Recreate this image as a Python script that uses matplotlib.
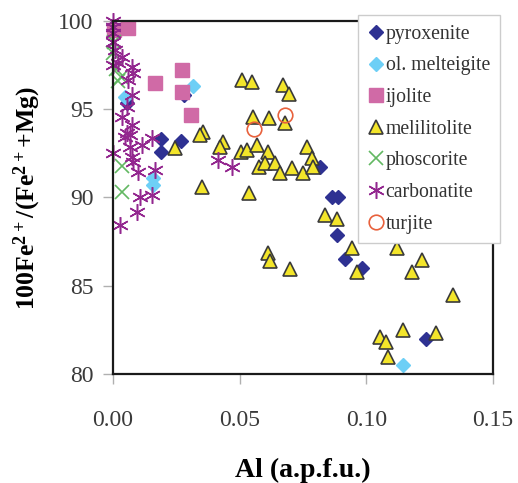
import matplotlib
matplotlib.use("Agg")
import matplotlib.pyplot as plt

# ---------------- data ----------------
pyrox_x = [0.028, 0.0055, 0.019, 0.019, 0.027, 0.0817, 0.0865, 0.0888, 0.0884, 0.0916, 0.0983, 0.1236]
pyrox_y = [95.8, 95.35, 93.3, 92.6, 93.2, 91.7, 90.0, 90.0, 87.9, 86.5, 86.0, 82.0]

melt_x = [0.0047, 0.0316, 0.0158, 0.0158, 0.1145]
melt_y = [95.7, 96.3, 91.1, 90.7, 80.5]

ijol_x = [0.0005, 0.0059, 0.0166, 0.0272, 0.0272, 0.0308]
ijol_y = [99.5, 99.6, 96.5, 97.2, 96.0, 94.7]

meli_x = [0.0509, 0.0549, 0.0671, 0.0695, 0.0553, 0.0616, 0.0679, 0.0355, 0.0343,
          0.0434, 0.0422, 0.0245, 0.0505, 0.0529, 0.0569, 0.0612, 0.0576, 0.0600,
          0.0640, 0.0659, 0.0707, 0.0750, 0.0766, 0.0786, 0.0790, 0.0351, 0.0537,
          0.0612, 0.0620, 0.0699, 0.0837, 0.0884, 0.0944, 0.1121, 0.1220, 0.1180,
          0.0963, 0.1342, 0.1054, 0.1078, 0.1145, 0.1275, 0.1086]
meli_y = [96.66, 96.54, 96.37, 95.86, 94.56, 94.50, 94.22, 93.71, 93.54,
          93.14, 92.86, 92.80, 92.58, 92.69, 92.97, 92.58, 91.73, 91.95,
          91.95, 91.39, 91.67, 91.39, 92.86, 92.24, 91.73, 90.60, 90.25,
          86.86, 86.40, 85.95, 89.01, 88.78, 87.14, 87.14, 86.46, 85.78,
          85.78, 84.48, 82.10, 81.81, 82.49, 82.32, 80.96]

phos_x = [0.0005, 0.0, 0.001, 0.003, 0.002, 0.0035, 0.0036]
phos_y = [98.8, 98.2, 97.3, 96.8, 96.6, 91.8, 90.3]

carb_x = [0.0, 0.0, 0.0, 0.0, 0.0008, 0.0036, 0.002, 0.0075, 0.0079, 0.0, 0.0059,
          0.0075, 0.0055, 0.0036, 0.0075, 0.0055, 0.0, 0.0067, 0.0067, 0.0075,
          0.0079, 0.0114, 0.0154, 0.0099, 0.0166, 0.0107, 0.0154, 0.0095, 0.0028,
          0.0415, 0.0470, 0.0047]
carb_y = [100.0, 99.66, 99.32, 98.81, 98.36, 97.96, 97.62, 97.39, 97.05, 97.5, 96.66,
          95.81, 95.13, 94.56, 94.10, 93.65, 92.52, 93.54, 92.86, 92.29,
          92.01, 92.97, 93.37, 91.44, 91.56, 90.03, 90.14, 89.18, 88.44,
          92.12, 91.73, 93.43]

turj_x = [0.0557, 0.0679]
turj_y = [93.88, 94.67]

x_ticks = [0.00, 0.05, 0.10, 0.15]
x_ticklabels = ["0.00", "0.05", "0.10", "0.15"]
y_ticks = [80, 85, 90, 95, 100]

# ---------------- figure ----------------
serif = ["Liberation Serif", "DejaVu Serif"]
plt.rcParams["font.family"] = serif
plt.rcParams["mathtext.fontset"] = "custom"
plt.rcParams["mathtext.rm"] = "Liberation Serif"
plt.rcParams["mathtext.bf"] = "Liberation Serif:bold"

fig = plt.figure(figsize=(5.18, 4.83), dpi=100)
ax = fig.add_axes([113 / 518, 1 - 374 / 483, 380 / 518, 353 / 483])

ax.plot(pyrox_x, pyrox_y, ls="none", marker="D", ms=6.8, mfc="#2E3192", mec="#2E3192",
        label="pyroxenite", clip_on=False)
ax.plot(melt_x, melt_y, ls="none", marker="D", ms=6.8, mfc="#6DCFF6", mec="#6DCFF6",
        label="ol. melteigite", clip_on=False)
ax.plot(ijol_x, ijol_y, ls="none", marker="s", ms=10, mfc="#D06AA6", mec="#D06AA6",
        label="ijolite", clip_on=False)
ax.plot(meli_x, meli_y, ls="none", marker="^", ms=10.5, mfc="#F3E52A", mec="#3a3a3a",
        mew=1.2, label="melilitolite", clip_on=False)
ax.plot(phos_x, phos_y, ls="none", marker="x", ms=10, mec="#62B862", mew=1.2,
        label="phoscorite", clip_on=False)
ax.plot(carb_x, carb_y, ls="none", marker=(6, 2, 0), ms=12, mec="#93278F", mew=1.1,
        label="carbonatite", clip_on=False)
ax.plot(turj_x, turj_y, ls="none", marker="o", ms=10.5, mfc="none", mec="#E8613C",
        mew=1.2, label="turjite", clip_on=False)

ax.set_xlim(0, 0.15)
ax.set_ylim(80, 100)
ax.set_xticks(x_ticks)
ax.set_xticklabels(x_ticklabels)
ax.set_yticks(y_ticks)

for s in ax.spines.values():
    s.set_linewidth(1.6)
    s.set_color("#1a1a1a")

ax.tick_params(axis="both", which="major", length=7, width=1, color="#b0b0b0",
               labelsize=17, labelcolor="#3a3a3a", direction="out")
ax.tick_params(axis="x", pad=19)
ax.tick_params(axis="y", pad=7)

ax.set_xlabel("Al (a.p.f.u.)", fontsize=20, fontweight="bold", labelpad=19)
ax.set_ylabel(r"$\mathbf{100Fe^{2+}/(Fe^{2+}{+}Mg)}$", fontsize=18.5, labelpad=11)

leg = ax.legend(loc="upper left", bbox_to_anchor=(358 / 518, 1 - 15 / 483),
                bbox_transform=fig.transFigure, borderaxespad=0, frameon=True,
                fancybox=False, edgecolor="#cccccc", framealpha=1, fontsize=14.2,
                labelspacing=0.64, handlelength=0.8, handletextpad=0.1,
                borderpad=0.5, numpoints=1)
leg.get_frame().set_linewidth(1.0)
leg.set_zorder(10)
for t in leg.get_texts():
    t.set_color("#333333")

fig.savefig("out.png", dpi=100)
